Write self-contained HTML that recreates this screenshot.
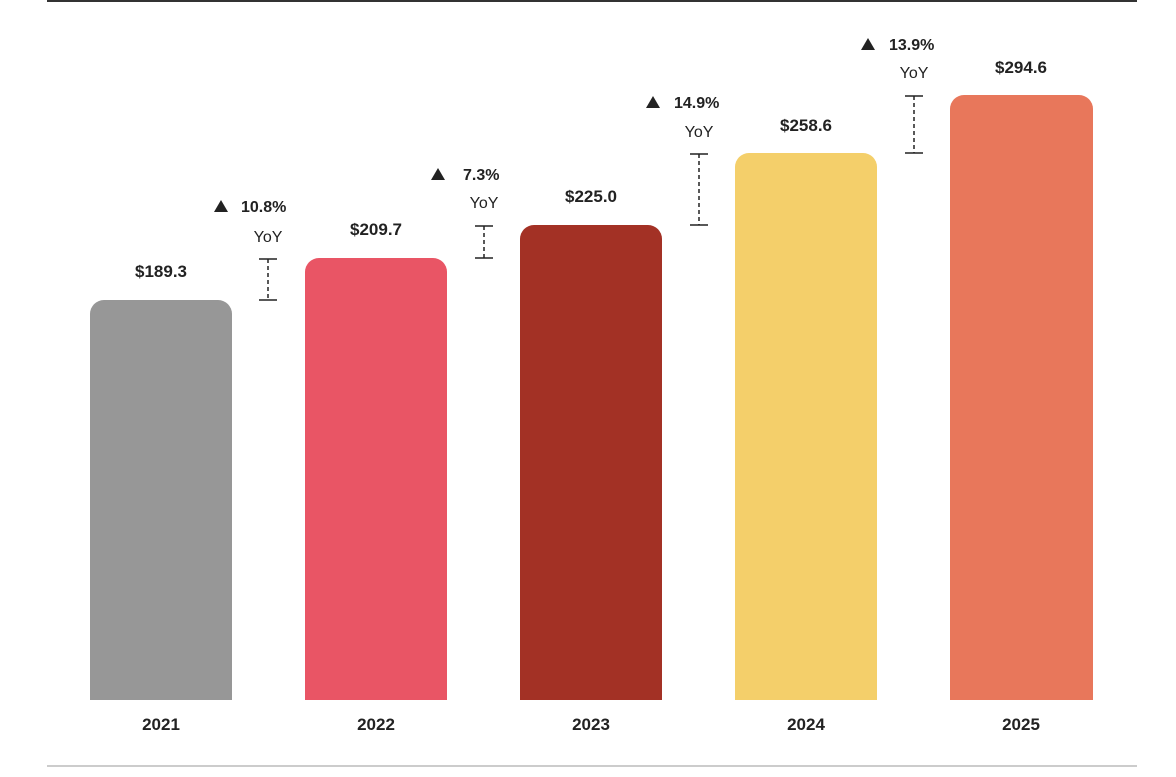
<!DOCTYPE html><html><head><style>body{margin:0;width:1176px;height:772px;background:#fff;overflow:hidden}</style></head><body>
<svg width="1176" height="772" xmlns="http://www.w3.org/2000/svg" font-family="Liberation Sans, sans-serif">
<line x1="47" y1="1" x2="1137" y2="1" stroke="#333" stroke-width="2"/>
<line x1="47" y1="766" x2="1137" y2="766" stroke="#bbb" stroke-width="1.5"/>
<g>
<path d="M90 700V314a14 14 0 0 1 14-14h114a14 14 0 0 1 14 14V700z" fill="#979797"/>
<path d="M305 700V272a14 14 0 0 1 14-14h114a14 14 0 0 1 14 14V700z" fill="#e95565"/>
<path d="M520 700V239a14 14 0 0 1 14-14h114a14 14 0 0 1 14 14V700z" fill="#a33125"/>
<path d="M735 700V167a14 14 0 0 1 14-14h114a14 14 0 0 1 14 14V700z" fill="#f4cf6a"/>
<path d="M950 700V109a14 14 0 0 1 14-14h115a14 14 0 0 1 14 14V700z" fill="#e8775b"/>
</g>
<g font-weight="bold" font-size="17" fill="#222" text-anchor="middle">
<text x="161" y="277">$189.3</text><text x="376" y="235">$209.7</text><text x="591" y="202">$225.0</text><text x="806" y="131">$258.6</text><text x="1021" y="73">$294.6</text>
<text x="161" y="730">2021</text><text x="376" y="730">2022</text><text x="591" y="730">2023</text><text x="806" y="730">2024</text><text x="1021" y="730">2025</text>
</g>
<g font-size="16" fill="#222">
<g transform="translate(268,0)"><polygon points="-54,212 -40,212 -47,200" fill="#222"/><text x="-27" y="212" font-weight="bold">10.8%</text><text x="0" y="242" text-anchor="middle">YoY</text>
<line x1="-9" y1="259" x2="9" y2="259" stroke="#222" stroke-width="1.5"/><line x1="-9" y1="300" x2="9" y2="300" stroke="#222" stroke-width="1.5"/><line x1="0" y1="259" x2="0" y2="300" stroke="#222" stroke-width="1.5" stroke-dasharray="4,3"/></g>
<g transform="translate(484,0)"><polygon points="-53,180 -39,180 -46,168" fill="#222"/><text x="-21" y="180" font-weight="bold">7.3%</text><text x="0" y="208" text-anchor="middle">YoY</text>
<line x1="-9" y1="226" x2="9" y2="226" stroke="#222" stroke-width="1.5"/><line x1="-9" y1="258" x2="9" y2="258" stroke="#222" stroke-width="1.5"/><line x1="0" y1="226" x2="0" y2="258" stroke="#222" stroke-width="1.5" stroke-dasharray="4,3"/></g>
<g transform="translate(699,0)"><polygon points="-53,108 -39,108 -46,96" fill="#222"/><text x="-25" y="108" font-weight="bold">14.9%</text><text x="0" y="137" text-anchor="middle">YoY</text>
<line x1="-9" y1="154" x2="9" y2="154" stroke="#222" stroke-width="1.5"/><line x1="-9" y1="225" x2="9" y2="225" stroke="#222" stroke-width="1.5"/><line x1="0" y1="154" x2="0" y2="225" stroke="#222" stroke-width="1.5" stroke-dasharray="4,3"/></g>
<g transform="translate(914,0)"><polygon points="-53,50 -39,50 -46,38" fill="#222"/><text x="-25" y="50" font-weight="bold">13.9%</text><text x="0" y="78" text-anchor="middle">YoY</text>
<line x1="-9" y1="96" x2="9" y2="96" stroke="#222" stroke-width="1.5"/><line x1="-9" y1="153" x2="9" y2="153" stroke="#222" stroke-width="1.5"/><line x1="0" y1="96" x2="0" y2="153" stroke="#222" stroke-width="1.5" stroke-dasharray="4,3"/></g>
</g>
</svg></body></html>
